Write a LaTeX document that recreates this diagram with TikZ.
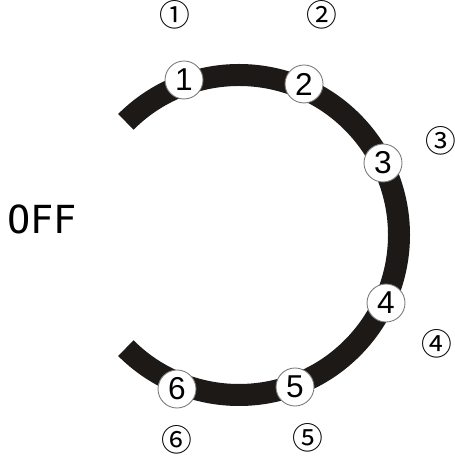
\documentclass[tikz,border=0pt]{standalone}
\usepackage{fontspec}
\newfontfamily\dialfont{Liberation Sans}
\newfontfamily\offfont{DejaVu Sans Mono}
\newfontfamily\circfont{Noto Sans CJK SC}
\definecolor{dialblack}{HTML}{1C1917}
\definecolor{posedge}{HTML}{7A7A7A}
\tikzset{
  dialarc/.style={draw=dialblack, line width=0.44cm},
  posnode/.style={circle, draw=posedge, fill=white, line width=0.5pt,
                  minimum size=0.76cm, inner sep=0pt, font=\dialfont\fontsize{18}{18}\selectfont},
  poslabel/.style={inner sep=0pt, font=\circfont\fontsize{17.5}{17.5}\selectfont},
  offlabel/.style={inner sep=0pt, font=\offfont\fontsize{22}{22}\selectfont},
}

\begin{document}
\begin{tikzpicture}[x=0.02cm, y=0.02cm]
    \useasboundingbox (0,0) rectangle (455,459);
    \coordinate (hub) at (239,224);
    \draw[dialarc] (hub) ++(135:160) arc[start angle=135, end angle=-135, radius=160];
    \node[posnode] (p1) at (184,379) {1};
    \node[posnode] (p2) at (304,375) {2};
    \node[posnode] (p3) at (383,296) {3};
    \node[posnode] (p4) at (386,156) {4};
    \node[posnode] (p5) at (295,72) {5};
    \node[posnode] (p6) at (177,70) {6};
    \node[poslabel] (l1) at (175,444) {①};
    \node[poslabel] (l2) at (322,444) {②};
    \node[poslabel] (l3) at (441,318) {③};
    \node[poslabel] (l4) at (437,115) {④};
    \node[poslabel] (l5) at (308,21) {⑤};
    \node[poslabel] (l6) at (177,19) {⑥};
    \node[offlabel] (off) at (42,240) {OFF};
  \end{tikzpicture}
\end{document}
